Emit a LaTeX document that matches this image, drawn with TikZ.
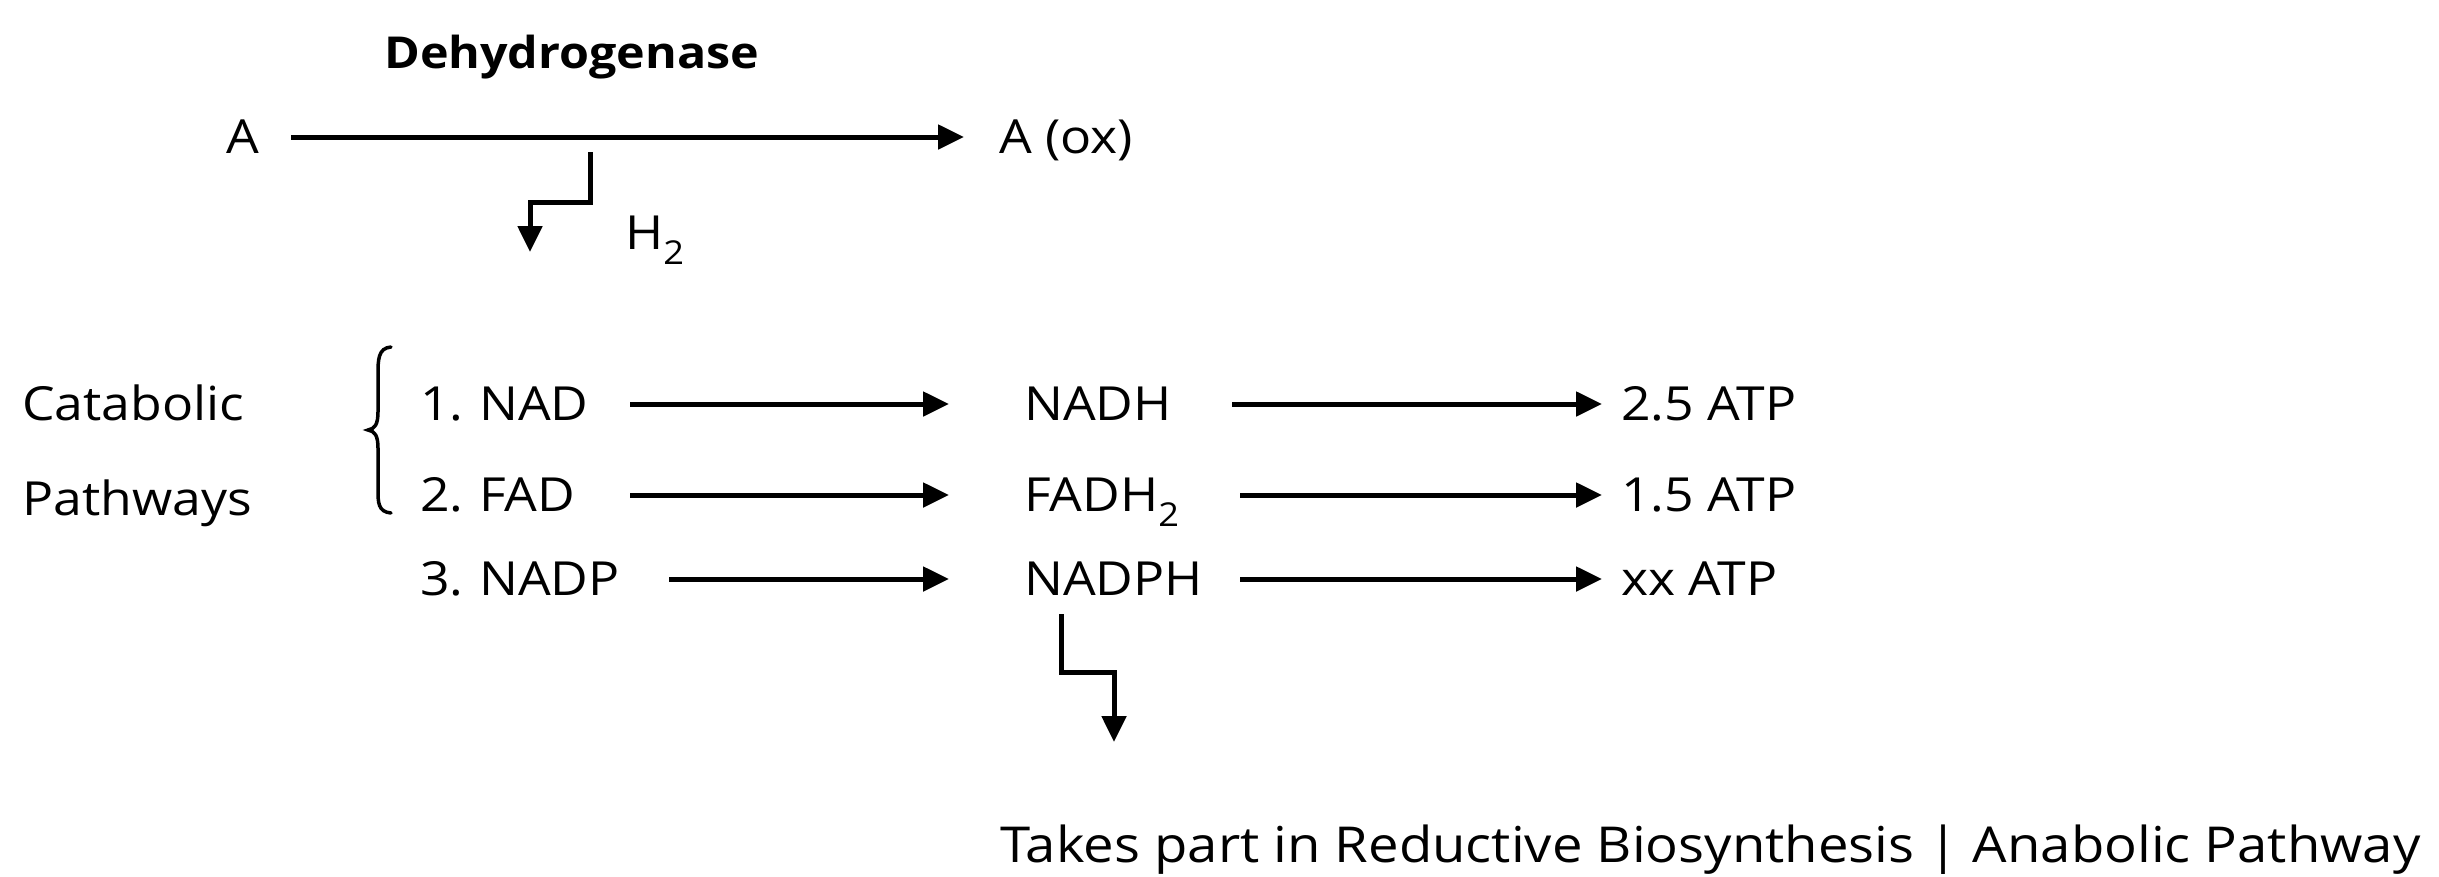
\documentclass[tikz,border=0pt]{standalone}
\usepackage{fontspec}
\setmainfont{Open Sans}[FakeStretch=1.1]
\frenchspacing
\usetikzlibrary{arrows.meta}
\tikzset{
  txt/.style={inner sep=0pt, anchor=west, text height=33pt, text depth=0pt,
    font=\fontsize{47}{52}\selectfont, align=left},
  arr/.style={line width=5pt, -{Triangle[length=26pt,width=24pt]}},
  brc/.style={line width=3.5pt, line cap=round},
}
\begin{document}
\begin{tikzpicture}[x=1pt,y=-1pt]
\useasboundingbox[fill=white] (0,0) rectangle (2439,876);
% top reaction
\node[txt, font=\fontsize{44}{50}\selectfont\bfseries] (deh) at (384,52) {Dehydrogenase};
\node[txt, text width=65pt] (a) at (226,137) {A};
\node[txt] (aox) at (999,137) {A (ox)};
\draw[arr, shorten >=35pt] (a.east) -- (aox.west);
\coordinate (h2s) at (590,152);
\coordinate (h2e) at (530,252);
\draw[arr] (h2s) -- ++(0,50) -| (h2e);
\node[txt] (h2) at (625,233) {H\textsubscript{2}};
% catabolic label and brace
\node[txt] (cat) at (22,404) {Catabolic};
\node[txt] (path) at (22,499) {Pathways};
\draw[brc] (391,347) .. controls (378,348) and (378,360) .. (378,375) -- (378,412)
  .. controls (378,424) and (375,429) .. (368,430)
  .. controls (375,431) and (378,436) .. (378,448) -- (378,490)
  .. controls (378,502) and (378,512) .. (391,513);
% rows
\node[txt, text width=210pt] (nad) at (420,404) {1. NAD};
\node[txt, text width=208pt] (nadh) at (1024,404) {NADH};
\node[txt] (atp1) at (1621,404) {2.5 ATP};
\node[txt, text width=210pt] (fad) at (420,495) {2. FAD};
\node[txt, text width=216pt] (fadh) at (1024,495) {FADH\textsubscript{2}};
\node[txt] (atp2) at (1621,495) {1.5 ATP};
\node[txt, text width=249pt] (nadp) at (420,579) {3. NADP};
\node[txt, text width=216pt] (nadph) at (1024,579) {NADPH};
\node[txt] (atp3) at (1621,579) {xx ATP};
\draw[arr, shorten >=75pt] (nad.east) -- (nadh.west);
\draw[arr, shorten >=19pt] (nadh.east) -- (atp1.west);
\draw[arr, shorten >=75pt] (fad.east) -- (fadh.west);
\draw[arr, shorten >=19pt] (fadh.east) -- (atp2.west);
\draw[arr, shorten >=75pt] (nadp.east) -- (nadph.west);
\draw[arr, shorten >=19pt] (nadph.east) -- (atp3.west);
% NADPH branch
\coordinate (bs) at (1061,614);
\coordinate (be) at (1114,742);
\draw[arr] (bs) -- ++(0,58) -| (be);
\node[txt, font=\fontsize{49.5}{52}\selectfont] (bottom) at (1000,846) {Takes part in Reductive Biosynthesis | Anabolic Pathway};
\end{tikzpicture}
\end{document}
